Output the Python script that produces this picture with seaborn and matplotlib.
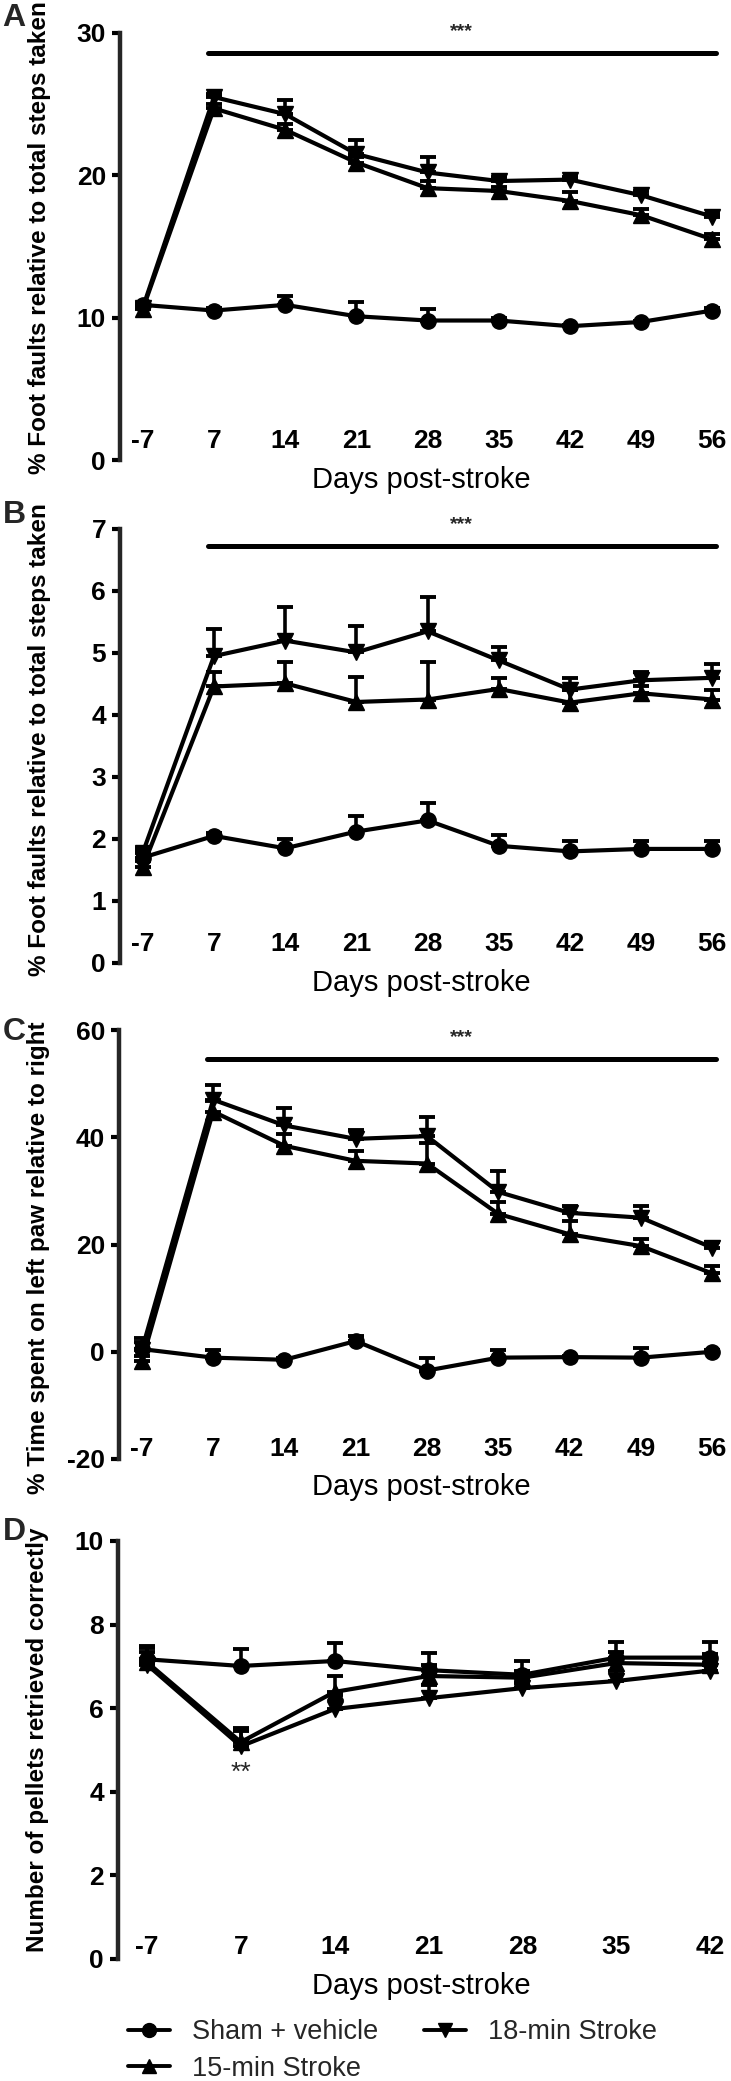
import numpy as np
import pandas as pd
import matplotlib
matplotlib.use("Agg")
import matplotlib.pyplot as plt
from matplotlib.lines import Line2D
import seaborn as sns

# ---------------- data ----------------
groups = ["Sham + vehicle", "15-min Stroke", "18-min Stroke"]
markers = {"Sham + vehicle": "o", "15-min Stroke": "^", "18-min Stroke": "v"}

days_abc = ["-7", "7", "14", "21", "28", "35", "42", "49", "56"]
days_d = ["-7", "7", "14", "21", "28", "35", "42"]

A_sham = [10.9, 10.5, 10.9, 10.1, 9.8, 9.8, 9.4, 9.7, 10.5]
A_sham_sem = [0.15, 0.15, 0.6, 1.0, 0.8, 0.15, 0.1, 0.1, 0.15]
A_15 = [10.6, 24.7, 23.2, 20.9, 19.1, 18.9, 18.2, 17.2, 15.5]
A_15_sem = [0.2, 0.3, 0.4, 0.4, 0.5, 0.3, 0.6, 0.4, 0.4]
A_18 = [10.7, 25.5, 24.3, 21.5, 20.2, 19.6, 19.7, 18.6, 17.1]
A_18_sem = [0.2, 0.2, 1.0, 1.0, 1.1, 0.3, 0.2, 0.3, 0.2]

B_sham = [1.70, 2.05, 1.85, 2.12, 2.30, 1.89, 1.80, 1.84, 1.84]
B_sham_sem = [0.12, 0.04, 0.15, 0.25, 0.28, 0.18, 0.16, 0.12, 0.12]
B_15 = [1.55, 4.46, 4.51, 4.21, 4.25, 4.42, 4.20, 4.35, 4.25]
B_15_sem = [0.1, 0.24, 0.34, 0.40, 0.61, 0.17, 0.2, 0.12, 0.15]
B_18 = [1.78, 4.95, 5.20, 5.01, 5.35, 4.88, 4.41, 4.56, 4.60]
B_18_sem = [0.08, 0.43, 0.54, 0.42, 0.55, 0.22, 0.19, 0.14, 0.22]

C_sham = [0.5, -1.1, -1.5, 2.0, -3.5, -1.1, -1.0, -1.1, 0.0]
C_sham_sem = [2.0, 1.5, 0.3, 0.9, 2.4, 1.4, 0.3, 1.8, 0.3]
C_15 = [-1.8, 44.8, 38.4, 35.6, 35.1, 25.7, 21.9, 19.7, 14.6]
C_15_sem = [1.0, 2.0, 2.2, 1.9, 3.9, 2.2, 2.5, 1.3, 1.3]
C_18 = [0.3, 47.0, 42.2, 39.7, 40.2, 29.8, 25.9, 25.0, 19.4]
C_18_sem = [1.5, 2.8, 3.2, 1.6, 3.6, 3.9, 1.2, 2.2, 1.1]

D_sham = [7.17, 7.01, 7.13, 6.91, 6.80, 7.21, 7.21]
D_sham_sem = [0.33, 0.41, 0.43, 0.40, 0.32, 0.37, 0.37]
D_15 = [7.10, 5.19, 6.39, 6.77, 6.73, 7.08, 7.04]
D_15_sem = [0.35, 0.34, 0.38, 0.27, 0.17, 0.27, 0.26]
D_18 = [7.04, 5.09, 5.98, 6.24, 6.48, 6.65, 6.90]
D_18_sem = [0.30, 0.37, 0.34, 0.32, 0.12, 0.23, 0.18]

ylabels = ["% Foot faults relative to total steps taken",
           "% Foot faults relative to total steps taken",
           "% Time spent on left paw relative to right",
           "Number of pellets retrieved correctly"]
xlabel = "Days post-stroke"
letters = ["A", "B", "C", "D"]

# ---------------- style ----------------
sns.set_theme(style="ticks")
plt.rcParams["font.family"] = ["Liberation Sans", "DejaVu Sans"]
plt.rcParams["axes.linewidth"] = 3.2

W, H = 731, 2081
fig = plt.figure(figsize=(W / 100, H / 100), dpi=100)

def frac_rect(left_px, top_px, right_px, bottom_px):
    return [left_px / W, 1 - bottom_px / H, (right_px - left_px) / W, (bottom_px - top_px) / H]

panels = [
    dict(days=days_abc, series=[(A_sham, A_sham_sem), (A_15, A_15_sem), (A_18, A_18_sem)],
         ylim=(0, 30), yticks=[0, 10, 20, 30], rect=frac_rect(120, 33, 723, 460),
         xlim=(-0.32, 8.15), spine_off=24, sig=("***", 28.6, 0.91, 8.05), ylab_y=0.52),
    dict(days=days_abc, series=[(B_sham, B_sham_sem), (B_15, B_15_sem), (B_18, B_18_sem)],
         ylim=(0, 7), yticks=list(range(8)), rect=frac_rect(120, 529, 723, 963),
         xlim=(-0.32, 8.15), spine_off=24, sig=("***", 6.73, 0.91, 8.05), ylab_y=0.515),
    dict(days=days_abc, series=[(C_sham, C_sham_sem), (C_15, C_15_sem), (C_18, C_18_sem)],
         ylim=(-20, 60), yticks=[-20, 0, 20, 40, 60], rect=frac_rect(119, 1030, 723, 1459),
         xlim=(-0.32, 8.15), spine_off=18, sig=("***", 54.6, 0.91, 8.05), ylab_y=0.47),
    dict(days=days_d, series=[(D_sham, D_sham_sem), (D_15, D_15_sem), (D_18, D_18_sem)],
         ylim=(0, 10), yticks=[0, 2, 4, 6, 8, 10], rect=frac_rect(118, 1541, 724, 1959),
         xlim=(-0.31, 6.15), spine_off=19, sig=None, ylab_y=0.525),
]

letter_pos = [(14, 18), (14, 515), (14, 1032), (14, 1532)]

for i, p in enumerate(panels):
    ax = fig.add_axes(p["rect"])
    n = len(p["days"])
    pos = np.arange(n)
    rows = []
    for g, (vals, sems) in zip(groups, p["series"]):
        for k in range(n):
            rows.append({"pos": pos[k], "value": vals[k], "sem": sems[k], "group": g})
    df = pd.DataFrame(rows)

    for g, (vals, sems) in zip(groups, p["series"]):
        ax.errorbar(pos, vals, yerr=[np.zeros(n), sems], fmt="none", ecolor="black",
                    elinewidth=2.6, capsize=5.5, capthick=2.8, zorder=2)

    sns.lineplot(data=df, x="pos", y="value", hue="group", style="group",
                 palette={g: "black" for g in groups}, markers=markers, dashes=False,
                 hue_order=groups, style_order=groups, errorbar=None, legend=False,
                 linewidth=3.0, markersize=11, markeredgecolor="black",
                 markeredgewidth=1.0, ax=ax, zorder=3)

    ax.set_xlim(*p["xlim"])
    ax.set_ylim(*p["ylim"])
    ax.set_yticks(p["yticks"])
    ax.set_yticklabels([str(t) for t in p["yticks"]])
    ax.set_xticks(pos)
    ax.set_xticklabels(p["days"])

    for s in ["top", "right"]:
        ax.spines[s].set_visible(False)
    ax.spines["bottom"].set_position(("outward", -p["spine_off"]))
    ax.spines["bottom"].set_color("none")
    ax.spines["left"].set_linewidth(3.2)

    ax.tick_params(axis="y", length=6, width=3.0, pad=4, labelsize=19, colors="black")
    ax.tick_params(axis="x", length=0, pad=2, labelsize=19, colors="black")
    plt.setp(ax.get_xticklabels() + ax.get_yticklabels(), fontweight="bold")

    ax.set_xlabel(xlabel, fontsize=21, labelpad=9, color="black")
    ax.set_ylabel(ylabels[i], fontsize=17.5, fontweight="bold", color="black")
    ax.yaxis.set_label_coords(-0.114, p["ylab_y"])

    if p["sig"] is not None:
        txt, yv, x0, x1 = p["sig"]
        ax.plot([x0, x1], [yv, yv], color="black", lw=3.6, solid_capstyle="round",
                clip_on=False)
        ax.annotate(txt, xy=((x0 + x1) / 2, yv), xytext=(0, 9), textcoords="offset points",
                    ha="center", va="bottom", fontsize=14, fontweight="bold",
                    annotation_clip=False)
    else:
        ax.text(1, 4.45, "**", ha="center", va="center", fontsize=19)

    fig.text(letter_pos[i][0] / W, 1 - letter_pos[i][1] / H, letters[i],
             ha="center", va="center", fontsize=23, fontweight="bold")

handles = [Line2D([0], [0], color="black", lw=2.8, marker=markers[g], markersize=10)
           for g in groups]
fig.legend(handles, groups, loc="upper left", bbox_to_anchor=(128 / W, 1 - 2019 / H),
           ncol=2, frameon=False, fontsize=19.5, handlelength=1.55, handletextpad=0.8,
           columnspacing=1.7, borderaxespad=0, borderpad=0, labelspacing=0.4)

fig.savefig("out.png", dpi=100, facecolor="white")
